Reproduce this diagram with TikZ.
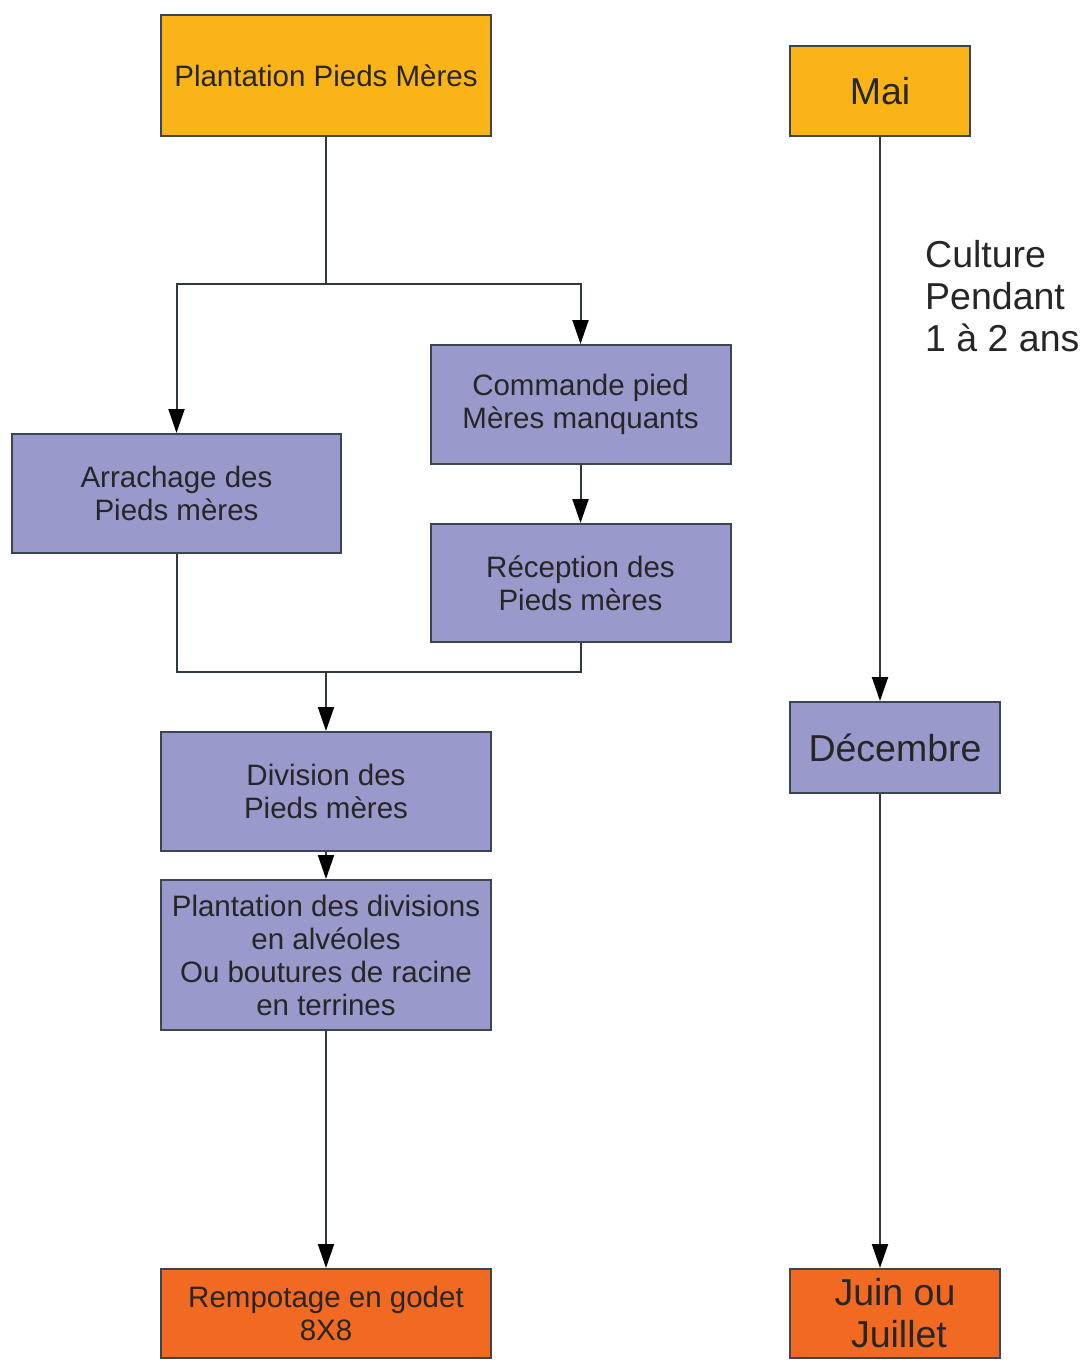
\documentclass[tikz,border=0pt]{standalone}
\usepackage{fontspec}
\setmainfont{Liberation Sans}
\usetikzlibrary{arrows.meta}
\definecolor{yel}{HTML}{FBB417}
\definecolor{lav}{HTML}{9999CC}
\definecolor{ora}{HTML}{F26A21}
\definecolor{edge}{HTML}{3A4750}
\begin{document}
\begin{tikzpicture}[x=1pt,y=-1pt,
  box/.style={draw=edge,line width=2pt,rectangle,inner sep=0pt,align=center,text=black!85},
  small/.style={font=\fontsize{29.5}{33}\selectfont},
  big/.style={font=\fontsize{37.5}{42}\selectfont},
  conn/.style={draw=edge!80!black,line width=2pt},
  arr/.style={conn,-{Triangle[width=16pt,length=24pt,color=black]}}]
\useasboundingbox (0,0) rectangle (1091,1360);
\node[box,small,fill=yel,minimum width=330pt,minimum height=121pt] (top) at (326,75.5) {Plantation Pieds Mères};
\node[box,big,fill=yel,minimum width=180pt,minimum height=90pt] (mai) at (880,91) {Mai};
\node[box,small,fill=lav,minimum width=300pt,minimum height=119pt] (cmd) at (580.5,404.5) {Commande pied\\Mères manquants};
\node[box,small,fill=lav,minimum width=329pt,minimum height=119pt] (arr) at (176.5,493.5) {Arrachage des\\Pieds mères};
\node[box,small,fill=lav,minimum width=300pt,minimum height=118pt] (rec) at (580.5,583) {Réception des\\Pieds mères};
\node[box,small,fill=lav,minimum width=330pt,minimum height=119pt] (div) at (326,791.5) {Division des\\Pieds mères};
\node[box,small,fill=lav,minimum width=330pt,minimum height=150pt] (plant) at (326,955) {Plantation des divisions\\en alvéoles\\Ou boutures de racine\\en terrines};
\node[box,small,fill=ora,minimum width=330pt,minimum height=89pt] (remp) at (326,1313.5) {Rempotage en godet\\8X8};
\node[box,big,fill=lav,minimum width=210pt,minimum height=91pt] (dec) at (895,747.5) {Décembre};
\node[box,big,fill=ora,minimum width=210pt,minimum height=89pt] (juin) at (895,1313.5) {Juin ou\\\hspace*{8pt}Juillet};
\node[big,anchor=west,align=left,inner sep=0pt,text=black!85] (cult) at (925,296) {Culture\\Pendant\\1 à 2 ans};
\coordinate (j1) at (326,284);
\coordinate (j2) at (326,672);
\draw[conn] (top.south) -- (j1);
\draw[arr] (j1) -| (arr.north);
\draw[arr] (j1) -| (cmd.north);
\draw[arr] (cmd) -- (rec);
\draw[conn] (arr.south) |- (j2);
\draw[conn] (rec.south) |- (j2);
\draw[arr] (j2) -- (div.north);
\draw[arr] (div) -- (plant);
\draw[arr] (plant) -- (remp);
\draw[arr] (mai.south) -- (mai.south |- dec.north);
\draw[arr] (mai.south |- dec.south) -- (mai.south |- juin.north);
\end{tikzpicture}
\end{document}
